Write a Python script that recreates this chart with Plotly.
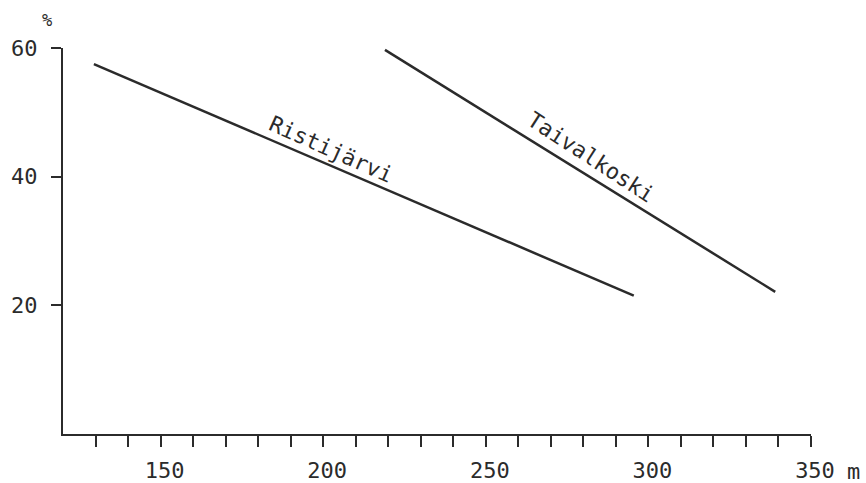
import plotly.graph_objects as go

# Data
ristijarvi_x = [129.5, 295.5]
ristijarvi_y = [57.5, 21.5]
taivalkoski_x = [219.0, 339.0]
taivalkoski_y = [59.7, 22.1]

x_tick_vals = list(range(130, 351, 10))
x_tick_text = [str(v) if v % 50 == 0 else "" for v in x_tick_vals]
y_tick_vals = [20, 40, 60]
y_tick_text = ["20", "40", "60"]

INK = "#2b2b2b"
FONT = "DejaVu Sans Mono"

fig = go.Figure()
fig.add_trace(go.Scatter(x=ristijarvi_x, y=ristijarvi_y, mode="lines",
                         line=dict(color=INK, width=2.5), name="Ristijärvi",
                         showlegend=False))
fig.add_trace(go.Scatter(x=taivalkoski_x, y=taivalkoski_y, mode="lines",
                         line=dict(color=INK, width=2.5), name="Taivalkoski",
                         showlegend=False))

fig.add_annotation(x=202.5, y=44.3, text="Ristijärvi", showarrow=False,
                   textangle=24, font=dict(family=FONT, size=22, color=INK),
                   xanchor="center", yanchor="middle")
fig.add_annotation(x=282.5, y=43.0, text="Taivalkoski", showarrow=False,
                   textangle=33, font=dict(family=FONT, size=22, color=INK),
                   xanchor="center", yanchor="middle")

# axis unit labels
fig.add_annotation(x=-0.021, y=1.0, xref="paper", yref="paper", text="%",
                   showarrow=False, yshift=28, xanchor="center", yanchor="middle",
                   font=dict(family=FONT, size=17, color=INK))
fig.add_annotation(x=1.0, y=0, xref="paper", yref="paper", text="m",
                   showarrow=False, xshift=42, yshift=-37, xanchor="center",
                   yanchor="middle", font=dict(family=FONT, size=22, color=INK))

fig.update_layout(
    width=866, height=483,
    margin=dict(l=63, r=55, t=48, b=49),
    paper_bgcolor="white", plot_bgcolor="white",
    showlegend=False,
)
fig.update_xaxes(
    range=[120, 350], showgrid=False, zeroline=False, automargin=False,
    showline=True, linecolor=INK, linewidth=2,
    tickmode="array", tickvals=x_tick_vals, ticktext=x_tick_text,
    ticks="outside", ticklen=11, tickwidth=2, tickcolor=INK,
    tickfont=dict(family=FONT, size=22, color=INK),
    ticklabelstandoff=5, ticklabelshift=4,
)
fig.update_yaxes(
    range=[0, 60], showgrid=False, zeroline=False, automargin=False,
    showline=True, linecolor=INK, linewidth=2,
    tickmode="array", tickvals=y_tick_vals, ticktext=y_tick_text,
    ticks="outside", ticklen=10, tickwidth=2, tickcolor=INK,
    tickfont=dict(family=FONT, size=22, color=INK),
    ticklabelstandoff=9,
)

fig.write_html("out.html")
